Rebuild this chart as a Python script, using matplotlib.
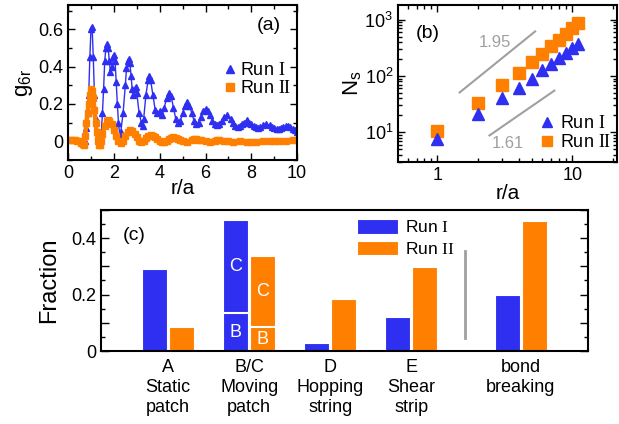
import numpy as np
import matplotlib
matplotlib.use("Agg")
import matplotlib.pyplot as plt
from matplotlib.lines import Line2D
from matplotlib.ticker import MultipleLocator, LogLocator, NullFormatter, FixedLocator, FuncFormatter

plt.rcParams['font.family'] = ['Liberation Sans', 'DejaVu Sans']
# roman numerals in the legends are serif, subscripts stay sans
plt.rcParams['mathtext.fontset'] = 'custom'
plt.rcParams['mathtext.rm'] = 'Liberation Serif'
plt.rcParams['mathtext.sf'] = 'Liberation Sans'
plt.rcParams['mathtext.it'] = 'Liberation Sans:italic'

BLUE = "#2f2ff2"
ORANGE = "#ff8000"
GRAY = "#a0a0a0"
LBL1 = "Run $\\mathrm{I}$"
LBL2 = "Run $\\mathrm{II}$"

# ---- panel (a): g6r vs r/a
r_run1 = [0.75, 0.8, 0.85, 0.9, 0.95, 1.0, 1.05, 1.1, 1.15, 1.2, 1.3, 1.4, 1.45, 1.5, 1.55,
          1.6, 1.65, 1.7, 1.75, 1.8, 1.85, 1.9, 1.95, 2.0, 2.05, 2.1, 2.15, 2.2, 2.25, 2.3,
          2.4, 2.5, 2.55, 2.6, 2.65, 2.7, 2.75, 2.8, 2.85, 2.9, 2.95, 3.0, 3.1, 3.2, 3.25,
          3.3, 3.4, 3.5, 3.55, 3.6, 3.7, 3.8, 3.9, 4.0, 4.1, 4.2, 4.3, 4.4, 4.5, 4.6, 4.7,
          4.8, 4.9, 5.0, 5.1, 5.2, 5.3, 5.4, 5.5, 5.6, 5.7, 5.8, 5.9, 6.0, 6.1, 6.2, 6.3,
          6.4, 6.5, 6.6, 6.7, 6.8, 6.95, 7.1, 7.2, 7.3, 7.4, 7.5, 7.6, 7.7, 7.8, 7.9, 8.0,
          8.1, 8.2, 8.3, 8.4, 8.5, 8.65, 8.8, 8.9, 9.0, 9.1, 9.2, 9.3, 9.4, 9.5, 9.6, 9.7,
          9.8, 9.9, 10.0]
g_run1 = [0.0, 0.07, 0.15, 0.25, 0.45, 0.6, 0.61, 0.45, 0.25, 0.12, 0.03, 0.02, 0.05, 0.15, 0.28,
          0.43, 0.5, 0.52, 0.5, 0.43, 0.37, 0.4, 0.45, 0.46, 0.43, 0.32, 0.2, 0.1, 0.04, 0.05,
          0.15, 0.3, 0.39, 0.43, 0.44, 0.42, 0.35, 0.28, 0.25, 0.28, 0.29, 0.26, 0.15, 0.1, 0.08,
          0.12, 0.25, 0.33, 0.35, 0.33, 0.25, 0.17, 0.15, 0.16, 0.14, 0.18, 0.23, 0.26, 0.24, 0.18, 0.12,
          0.095, 0.11, 0.15, 0.19, 0.21, 0.19, 0.15, 0.11, 0.09, 0.1, 0.13, 0.16, 0.175, 0.16, 0.14, 0.11,
          0.09, 0.085, 0.09, 0.11, 0.13, 0.14, 0.12, 0.1, 0.08, 0.075, 0.08, 0.09, 0.1, 0.112, 0.1, 0.09,
          0.08, 0.075, 0.07, 0.075, 0.085, 0.093, 0.085, 0.075, 0.07, 0.065, 0.065, 0.07, 0.075, 0.08, 0.08, 0.075,
          0.065, 0.058, 0.05]

r_run2 = [0.0, 0.1, 0.2, 0.3, 0.4, 0.5, 0.55, 0.6, 0.65, 0.7, 0.75, 0.8, 0.85, 0.9, 0.95,
          1.0, 1.05, 1.1, 1.15, 1.2, 1.25, 1.3, 1.35, 1.4, 1.45, 1.5, 1.6, 1.7, 1.75, 1.8,
          1.9, 2.0, 2.1, 2.2, 2.3, 2.4, 2.5, 2.6, 2.7, 2.8, 2.9, 3.0, 3.1, 3.2, 3.3,
          3.4, 3.5, 3.6, 3.7, 3.8, 3.9, 4.0, 4.1, 4.2, 4.3, 4.4, 4.5, 4.6, 4.7, 4.8,
          4.9, 5.0, 5.2, 5.4, 5.5, 5.6, 5.7, 5.8, 6.0, 6.2, 6.4, 6.5, 6.6, 6.8, 7.0,
          7.2, 7.5, 7.8, 8.0, 8.2, 8.5, 8.8, 9.0, 9.2, 9.5, 9.8, 10.0]
g_run2 = [0.005, 0.005, 0.004, 0.004, 0.003, 0.0, -0.008, -0.01, -0.015, -0.022, 0.03, 0.1, 0.15, 0.2, 0.25,
          0.28, 0.27, 0.23, 0.17, 0.1, 0.05, 0.0, -0.02, -0.022, 0.0, 0.04, 0.08, 0.11, 0.115, 0.11,
          0.09, 0.06, 0.03, 0.0, -0.01, 0.0, 0.03, 0.05, 0.06, 0.055, 0.04, 0.02, 0.0, -0.005, 0.0,
          0.015, 0.03, 0.035, 0.03, 0.02, 0.01, 0.0, -0.005, -0.005, 0.0, 0.01, 0.018, 0.02, 0.015, 0.01,
          0.004, 0.0, -0.002, 0.004, 0.01, 0.01, 0.008, 0.004, 0.0, -0.002, 0.002, 0.005, 0.004, 0.001, 0.0,
          -0.002, 0.0, -0.002, -0.003, -0.002, 0.0, 0.0, 0.0, 0.001, 0.003, 0.004, 0.005]

# ---- panel (b): Ns vs r/a
r_ns = [1, 2, 3, 4, 5, 6, 7, 8, 9, 10, 11]
ns_run1 = [7.8, 21, 40, 62, 88, 125, 165, 210, 260, 310, 370]
ns_run2 = [10.5, 33, 68, 115, 180, 250, 340, 440, 560, 700, 850]
slope_hi_x = [1.46, 5.3]
slope_hi_y = [51, 615]
slope_lo_x = [2.43, 7.36]
slope_lo_y = [8.85, 55]

# ---- panel (c): fractions
cat_labels = ["A\nStatic\npatch", "B/C\nMoving\npatch", "D\nHopping\nstring",
              "E\nShear\nstrip", "bond\nbreaking"]
cat_pos = [0, 1, 2, 3, 4.35]
frac_run1 = [0.29, 0.463, 0.028, 0.12, 0.198]
frac_run2 = [0.085, 0.336, 0.184, 0.297, 0.459]
frac_B_run1 = 0.134
frac_B_run2 = 0.085

fig = plt.figure(figsize=(6.19, 4.24), dpi=100)

TICK_FS = 13


def style_axes(ax):
    ax.tick_params(which="both", direction="in", top=True, right=True,
                   labelsize=TICK_FS, width=1.0)
    ax.tick_params(which="major", length=5)
    ax.tick_params(which="minor", length=3)
    for s in ax.spines.values():
        s.set_linewidth(1.5)


# (a)
axa = fig.add_axes([0.110, 0.623, 0.370, 0.365])
axa.plot(r_run1, g_run1, "-^", color=BLUE, lw=1.0, ms=3.8, mec=BLUE)
axa.plot(r_run2, g_run2, "-s", color=ORANGE, lw=3.2, ms=3.8, mec=ORANGE)
axa.set_xlim(0, 10)
axa.set_ylim(-0.1, 0.73)
axa.xaxis.set_major_locator(MultipleLocator(2))
axa.xaxis.set_minor_locator(MultipleLocator(1))
axa.yaxis.set_major_locator(FixedLocator([0, 0.2, 0.4, 0.6]))
axa.yaxis.set_minor_locator(MultipleLocator(0.1))
axa.yaxis.set_major_formatter(FuncFormatter(lambda v, p: "0" if abs(v) < 1e-9 else f"{v:.1f}"))
style_axes(axa)
axa.set_xlabel("r/a", fontsize=15, labelpad=-2)
axa.set_ylabel("g$_\\mathsf{6r}$", fontsize=16, labelpad=2)
axa.text(0.93, 0.87, "(a)", transform=axa.transAxes, ha="right", va="center", fontsize=14)
leg_a = [Line2D([], [], ls="none", marker="^", color=BLUE, ms=6),
         Line2D([], [], ls="none", marker="s", color=ORANGE, ms=6)]
axa.legend(leg_a, [LBL1, LBL2], loc="upper right", bbox_to_anchor=(1.02, 0.7), frameon=False,
           fontsize=13, handlelength=0.5, handletextpad=0.3, labelspacing=0.05,
           borderaxespad=0.2)

# (b)
axb = fig.add_axes([0.643, 0.618, 0.354, 0.370])
axb.plot(r_ns, ns_run2, "s", color=ORANGE, ms=8, zorder=3)
axb.plot(r_ns, ns_run1, "^", color=BLUE, ms=8.5, zorder=3)
axb.plot(slope_hi_x, slope_hi_y, "-", color=GRAY, lw=1.5)
axb.plot(slope_lo_x, slope_lo_y, "-", color=GRAY, lw=1.5)
axb.text(2.69, 390, "1.95", color=GRAY, fontsize=12, ha="center", va="center")
axb.text(3.3, 6.4, "1.61", color=GRAY, fontsize=12, ha="center", va="center")
axb.set_xscale("log")
axb.set_yscale("log")
axb.set_xlim(0.51, 21.5)
axb.set_ylim(3, 1800)
axb.xaxis.set_major_locator(FixedLocator([1, 10]))
axb.xaxis.set_major_formatter(FuncFormatter(lambda v, p: f"{v:g}"))
axb.xaxis.set_minor_locator(LogLocator(base=10, subs=np.arange(2, 10)))
axb.xaxis.set_minor_formatter(NullFormatter())
axb.yaxis.set_major_locator(FixedLocator([10, 100, 1000]))
axb.yaxis.set_minor_locator(LogLocator(base=10, subs=np.arange(2, 10)))
axb.yaxis.set_minor_formatter(NullFormatter())
style_axes(axb)
axb.set_xlabel("r/a", fontsize=15, labelpad=0)
axb.set_ylabel("N$_\\mathsf{s}$", fontsize=16, labelpad=0)
axb.text(0.08, 0.82, "(b)", transform=axb.transAxes, ha="left", va="center", fontsize=14)
leg_b = [Line2D([], [], ls="none", marker="^", color=BLUE, ms=6.5),
         Line2D([], [], ls="none", marker="s", color=ORANGE, ms=6.5)]
axb.legend(leg_b, [LBL1, LBL2], loc="lower right", bbox_to_anchor=(1.02, 0.0), frameon=False,
           fontsize=13, handlelength=0.6, handletextpad=0.4, labelspacing=0.1,
           borderaxespad=0.2)

# (c)
axc = fig.add_axes([0.163, 0.172, 0.787, 0.333])
pos = np.array(cat_pos)
w = 0.31
off = 0.167
axc.bar(pos - off, frac_run1, w, color=BLUE, edgecolor="white", lw=0.8, label=LBL1)
axc.bar(pos + off, frac_run2, w, color=ORANGE, edgecolor="white", lw=0.8, label=LBL2)
# B/C split lines
axc.plot([pos[1] - off - w / 2, pos[1] - off + w / 2], [frac_B_run1] * 2, color="white", lw=1.5)
axc.plot([pos[1] + off - w / 2, pos[1] + off + w / 2], [frac_B_run2] * 2, color="white", lw=1.5)
axc.text(pos[1] - off, (frac_B_run1 + frac_run1[1]) / 2, "C", color="white", fontsize=13,
         ha="center", va="center")
axc.text(pos[1] - off, frac_B_run1 / 2, "B", color="white", fontsize=13, ha="center", va="center")
axc.text(pos[1] + off, (frac_B_run2 + frac_run2[1]) / 2, "C", color="white", fontsize=13,
         ha="center", va="center")
axc.text(pos[1] + off, frac_B_run2 / 2, "B", color="white", fontsize=13, ha="center", va="center")
axc.plot([3.66, 3.66], [0.046, 0.353], color=GRAY, lw=2)
axc.set_xlim(-0.83, 5.18)
axc.set_ylim(0, 0.5)
axc.set_xticks(pos)
axc.set_xticklabels(cat_labels, fontsize=12.5, linespacing=1.2)
axc.yaxis.set_major_locator(MultipleLocator(0.1))
axc.yaxis.set_minor_locator(MultipleLocator(0.05))
axc.yaxis.set_major_formatter(FuncFormatter(
    lambda v, p: "0" if abs(v) < 1e-9 else (f"{v:.1f}" if round(v * 10) % 2 == 0 else "")))
axc.tick_params(which="both", direction="in", right=True, labelsize=TICK_FS, width=1.0)
axc.tick_params(axis="x", which="both", length=0, pad=6)
axc.tick_params(axis="y", which="major", length=6)
axc.tick_params(axis="y", which="minor", length=3)
for s in axc.spines.values():
    s.set_linewidth(1.5)
axc.set_ylabel("Fraction", fontsize=17, labelpad=8)
axc.text(0.045, 0.82, "(c)", transform=axc.transAxes, ha="left", va="center", fontsize=14)
axc.legend(loc="upper left", bbox_to_anchor=(0.5, 1.02), frameon=False, fontsize=12.5,
           handlelength=2.4, handleheight=0.9, handletextpad=0.4, labelspacing=0.3,
           borderaxespad=0.3)

fig.savefig("out.png", dpi=100)
